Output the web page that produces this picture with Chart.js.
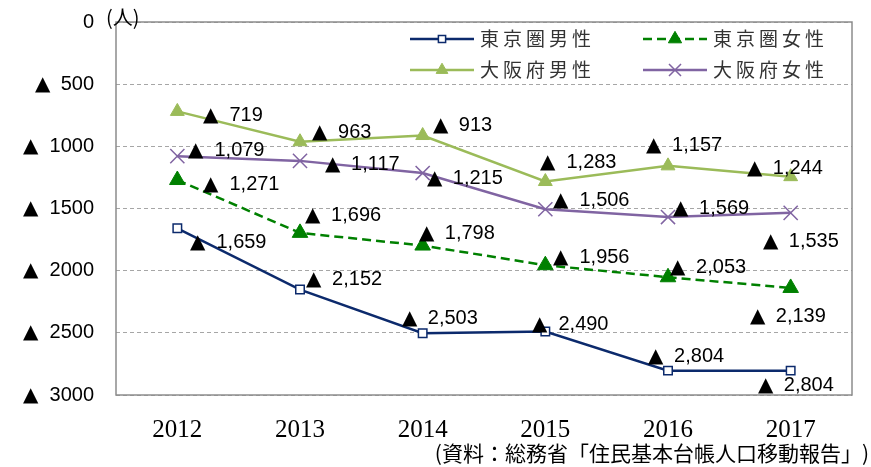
<!DOCTYPE html>
<html>
<head>
<meta charset="utf-8">
<script src="https://cdn.jsdelivr.net/npm/chart.js@4/dist/chart.umd.min.js"></script>
<style>
  @font-face { font-family: 'Tri'; src: local('DejaVu Sans'); unicode-range: U+25B2; }
  html, body { margin: 0; padding: 0; background: #fff; }
  #wrap { width: 871px; height: 467px; }
</style>
</head>
<body>
<div id="wrap"><canvas id="myChart" width="871" height="467"></canvas></div>
<script>
// データ: 転出超過数（人）
var years = ['2012', '2013', '2014', '2015', '2016', '2017'];
var tokyoMale = [1659, 2152, 2503, 2490, 2804, 2804];
var tokyoFemale = [1271, 1696, 1798, 1956, 2053, 2139];
var osakaMale = [719, 963, 913, 1283, 1157, 1244];
var osakaFemale = [1079, 1117, 1215, 1506, 1569, 1535];
var yTicks = [0, 500, 1000, 1500, 2000, 2500, 3000];

// ラベルの位置（点からのずれ）
var labelShift = [
  [[13, 14], [6, -10], [-21, -15], [-13, -7], [-20, -14], [-33, 15]],
  [[26, 4], [5, -17], [-4, -12], [8, -8], [2, -10], [-41, 29]],
  [[26, 4], [12, -9], [10, -10], [-5, -19], [-22, -20], [-44, -8]],
  [[11, -6], [25, 4], [4, 5], [8, -9], [5, -9], [-28, 29]]
];

var sansFont = 'Tri, "Liberation Sans", Arial, sans-serif';
var cjkFont = '"Noto Sans CJK JP", "Noto Sans", sans-serif';

function fmt(v) {
  return v.toString().replace(/\B(?=(\d{3})+(?!\d))/g, ',');
}

// 値ラベル・凡例・枠・注記
var extras = {
  id: 'extras',
  afterDatasetsDraw: function(chart) {
    var ctx = chart.ctx;
    var a = chart.chartArea;
    ctx.save();
    // 枠
    ctx.strokeStyle = '#8c8c8c';
    ctx.lineWidth = 1.5;
    ctx.strokeRect(a.left, a.top, a.right - a.left, a.bottom - a.top);

    // 値ラベル
    ctx.fillStyle = '#000';
    ctx.font = '20px ' + sansFont;
    ctx.textAlign = 'left';
    ctx.textBaseline = 'middle';
    chart.data.datasets.forEach(function(ds, i) {
      var meta = chart.getDatasetMeta(i);
      meta.data.forEach(function(pt, j) {
        var s = labelShift[i][j];
        ctx.fillText('▲  ' + fmt(ds.data[j]), pt.x + s[0], pt.y + s[1]);
      });
    });

    // 凡例
    var spots = [[410, 39], [643, 39], [410, 70], [643, 70]];
    chart.data.datasets.forEach(function(ds, i) {
      var x = spots[i][0], y = spots[i][1];
      ctx.save();
      ctx.strokeStyle = ds.borderColor;
      ctx.lineWidth = ds.borderWidth;
      ctx.setLineDash(ds.borderDash || []);
      ctx.beginPath();
      ctx.moveTo(x, y);
      ctx.lineTo(x + 64, y);
      ctx.stroke();
      ctx.setLineDash([]);
      ctx.strokeStyle = ds.pointBorderColor;
      ctx.fillStyle = ds.pointBackgroundColor;
      ctx.lineWidth = ds.pointBorderWidth;
      Chart.helpers.drawPoint(ctx, {
        pointStyle: ds.pointStyle,
        radius: ds.pointRadius * 0.85,
        rotation: 0,
        borderWidth: ds.pointBorderWidth
      }, x + 32, y);
      ctx.restore();
      ctx.fillStyle = '#333';
      ctx.font = '19px ' + cjkFont;
      ctx.letterSpacing = '4px';
      ctx.textBaseline = 'middle';
      ctx.fillText(ds.label, x + 70, y);
      ctx.letterSpacing = '0px';
    });

    // 単位と出典
    ctx.fillStyle = '#000';
    ctx.font = '20px ' + cjkFont;
    ctx.textAlign = 'left';
    ctx.textBaseline = 'middle';
    ctx.fillText('(人)', 106, 17);
    ctx.textAlign = 'right';
    ctx.font = '21px ' + cjkFont;
    ctx.fillText('(資料：総務省「住民基本台帳人口移動報告」)', 869, 453);
    ctx.restore();
  }
};

function build() {
  var ctx = document.getElementById('myChart').getContext('2d');
  var lineChart = new Chart(ctx, {
    type: 'line',
    data: {
      labels: years,
      datasets: [{
        label: '東京圏男性',
        data: tokyoMale,
        borderColor: '#0c2a6c',
        borderWidth: 2.5,
        pointStyle: 'rect',
        pointRadius: 6,
        pointBackgroundColor: '#fff',
        pointBorderColor: '#0c2a6c',
        pointBorderWidth: 1.5
      }, {
        label: '東京圏女性',
        data: tokyoFemale,
        borderColor: '#008000',
        borderWidth: 2.5,
        borderDash: [9, 5],
        pointStyle: 'triangle',
        pointRadius: 9,
        pointBackgroundColor: '#008000',
        pointBorderColor: '#008000',
        pointBorderWidth: 1
      }, {
        label: '大阪府男性',
        data: osakaMale,
        borderColor: '#9bbb59',
        borderWidth: 2.5,
        pointStyle: 'triangle',
        pointRadius: 8,
        pointBackgroundColor: '#9bbb59',
        pointBorderColor: '#9bbb59',
        pointBorderWidth: 1
      }, {
        label: '大阪府女性',
        data: osakaFemale,
        borderColor: '#8064a2',
        borderWidth: 2.5,
        pointStyle: 'crossRot',
        pointRadius: 10,
        pointBackgroundColor: '#8064a2',
        pointBorderColor: '#8064a2',
        pointBorderWidth: 1.5
      }]
    },
    options: {
      responsive: false,
      animation: false,
      layout: { padding: { left: 0, top: 22, right: 19, bottom: 0 } },
      scales: {
        x: {
          offset: true,
          grid: { display: false, drawTicks: false },
          border: { display: false },
          ticks: {
            padding: 20,
            color: '#000',
            font: { family: '"Liberation Serif", "Times New Roman", serif', size: 25 }
          },
          afterFit: function(scale) { scale.height = 72; }
        },
        y: {
          reverse: true,
          min: 0,
          max: 3000,
          afterBuildTicks: function(scale) {
            scale.ticks = yTicks.map(function(v) { return { value: v }; });
          },
          grid: { color: '#a6a6a6', lineWidth: 1, drawTicks: false },
          border: { display: false, dash: [4, 3] },
          ticks: {
            padding: 22,
            color: '#000',
            font: { family: sansFont, size: 20 },
            callback: function(v) { return v === 0 ? '0' : '▲  ' + v; }
          },
          afterFit: function(scale) {
            scale.width = 116;
            scale.paddingTop = 0;
            scale.paddingBottom = 0;
          }
        }
      },
      plugins: {
        legend: { display: false },
        tooltip: { enabled: false }
      }
    },
    plugins: [extras]
  });
}

document.fonts.load('20px Tri', '▲').then(build, build);
</script>
</body>
</html>
